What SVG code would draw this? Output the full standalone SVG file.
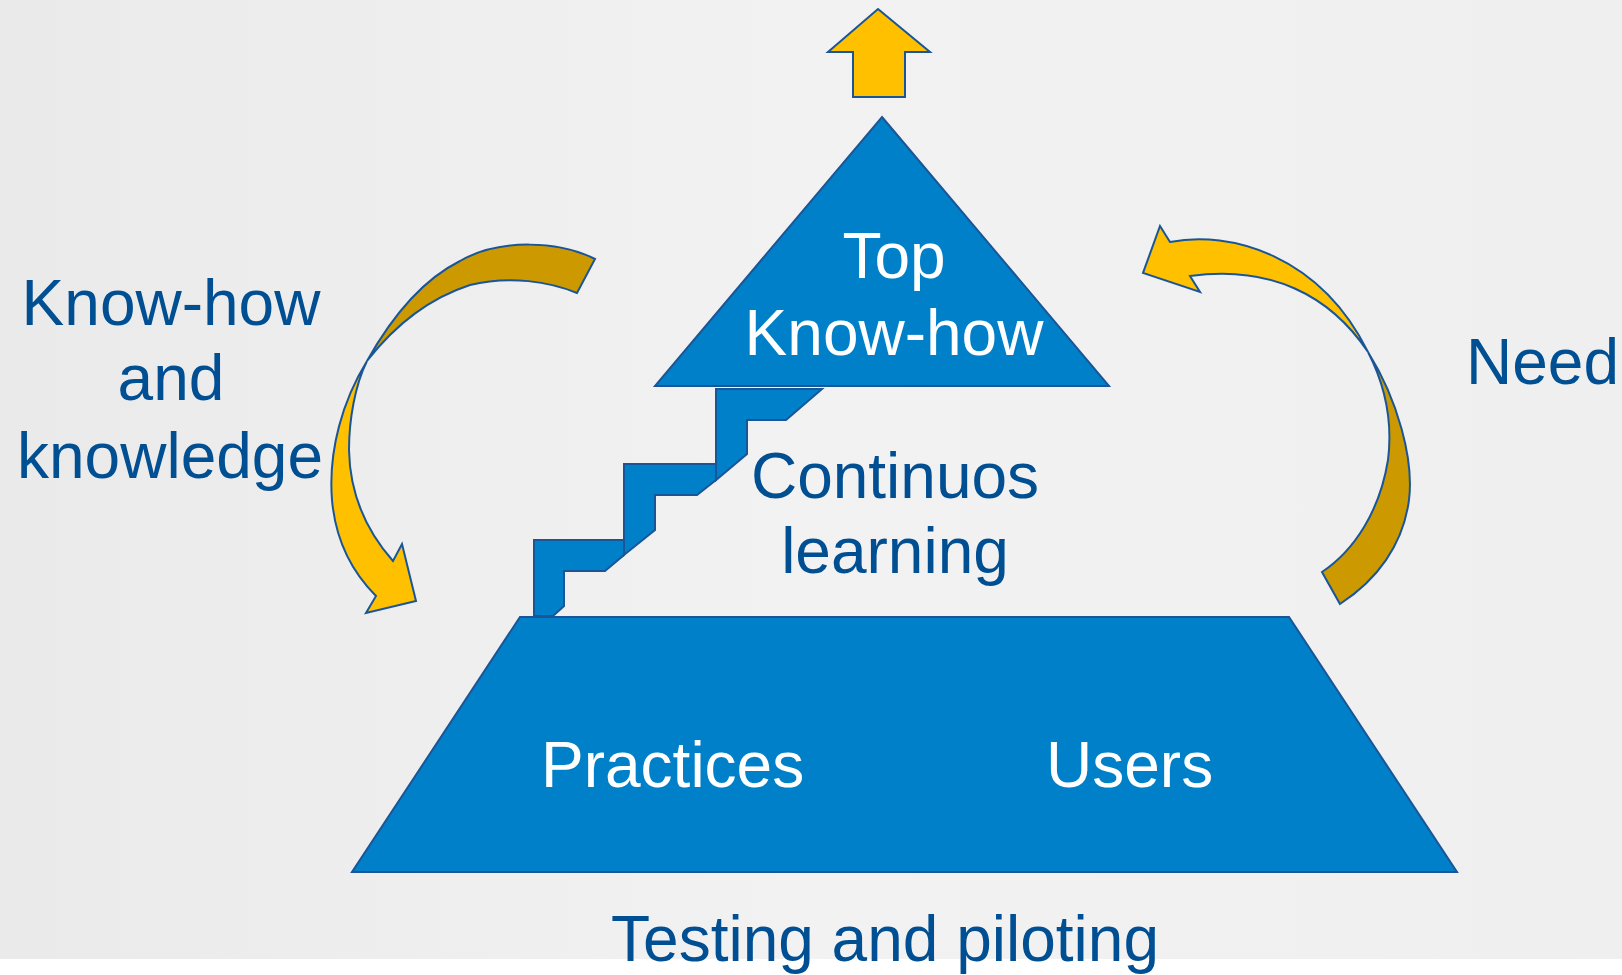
<svg xmlns="http://www.w3.org/2000/svg" width="1622" height="975" viewBox="0 0 1622 975">
<defs>
<linearGradient id="bg" x1="0" y1="0" x2="1" y2="0">
<stop offset="0" stop-color="#eaeaea"/>
<stop offset="0.5" stop-color="#f2f2f2"/>
<stop offset="1" stop-color="#efefef"/>
</linearGradient>
</defs>
<style>
.blue{fill:#0080c8;stroke:#1a5697;stroke-width:2;stroke-linejoin:miter}
.yel{fill:#ffc000;stroke:#1a5697;stroke-width:2;stroke-linejoin:miter}
.gold{fill:#cc9a00;stroke:#1a5697;stroke-width:2;stroke-linejoin:miter}
.t{font-family:"Liberation Sans",Arial,sans-serif;font-size:64px}
.dk{fill:#004f93}
.wh{fill:#ffffff}
</style>
<rect x="0" y="0" width="1622" height="959" fill="url(#bg)"/>
<rect x="0" y="959" width="1622" height="16" fill="#ffffff"/>

<g id="up-arrow">
<polygon class="yel" points="878,9 930,52 905,52 905,97 853,97 853,52 828,52"/>
</g>

<g id="stairs">
<polygon class="blue" points="534,540 624,540 624,555 605,571 564,571 564,606 553,616 534,616"/>
<polygon class="blue" points="624,464 716,464 716,480 697,495 655,495 655,530 624,555"/>
<polygon class="blue" points="716,389 822,389 786,420 747,420 747,454 716,480"/>
</g>

<g id="base">
<polygon class="blue" points="520,617 1289,617 1457,872 352,872"/>
<text class="t wh" x="541" y="787">Practices</text>
<text class="t wh" x="1046" y="787">Users</text>
</g>

<g id="top">
<polygon class="blue" points="882,117 1109,386 655,386"/>
<text class="t wh" x="894" y="278" text-anchor="middle">Top</text>
<text class="t wh" x="894" y="355" text-anchor="middle">Know-how</text>
</g>

<g id="learning">
<text class="t dk" x="895" y="498" text-anchor="middle">Continuos</text>
<text class="t dk" x="895" y="573" text-anchor="middle">learning</text>
</g>

<g id="knowhow-label">
<text class="t dk" x="171" y="325" text-anchor="middle">Know-how</text>
<text class="t dk" x="171" y="400" text-anchor="middle">and</text>
<text class="t dk" x="170" y="478" text-anchor="middle">knowledge</text>
</g>

<g id="need-label">
<text class="t dk" x="1466" y="384">Need</text>
</g>

<g id="testing-label">
<text class="t dk" x="885" y="961" text-anchor="middle">Testing and piloting</text>
</g>

<g id="connectors">
<path class="gold" d="M595,259 C560,241 500,238 460,261 C420,281 390,320 367,361 C395,325 430,298 470,285 C510,275 550,282 577,293 Z"/>
<path class="yel" d="M367,361 C343,400 328,450 332,500 C336,545 355,575 376,596 L366,613 L416,601 L402,544 L393,561 C370,535 350,500 349,450 C349,420 355,385 367,361 Z"/>
<path class="yel" d="M1170,242 C1230,230 1320,255 1368,352 C1330,295 1270,265 1190,276 L1200,292 L1143,273 L1160,226 Z"/>
<path class="gold" d="M1368,352 C1398,400 1414,460 1409,500 C1403,545 1377,580 1340,604 L1322,572 C1355,550 1380,510 1388,460 C1393,420 1385,385 1368,352 Z"/>
</g>
</svg>
